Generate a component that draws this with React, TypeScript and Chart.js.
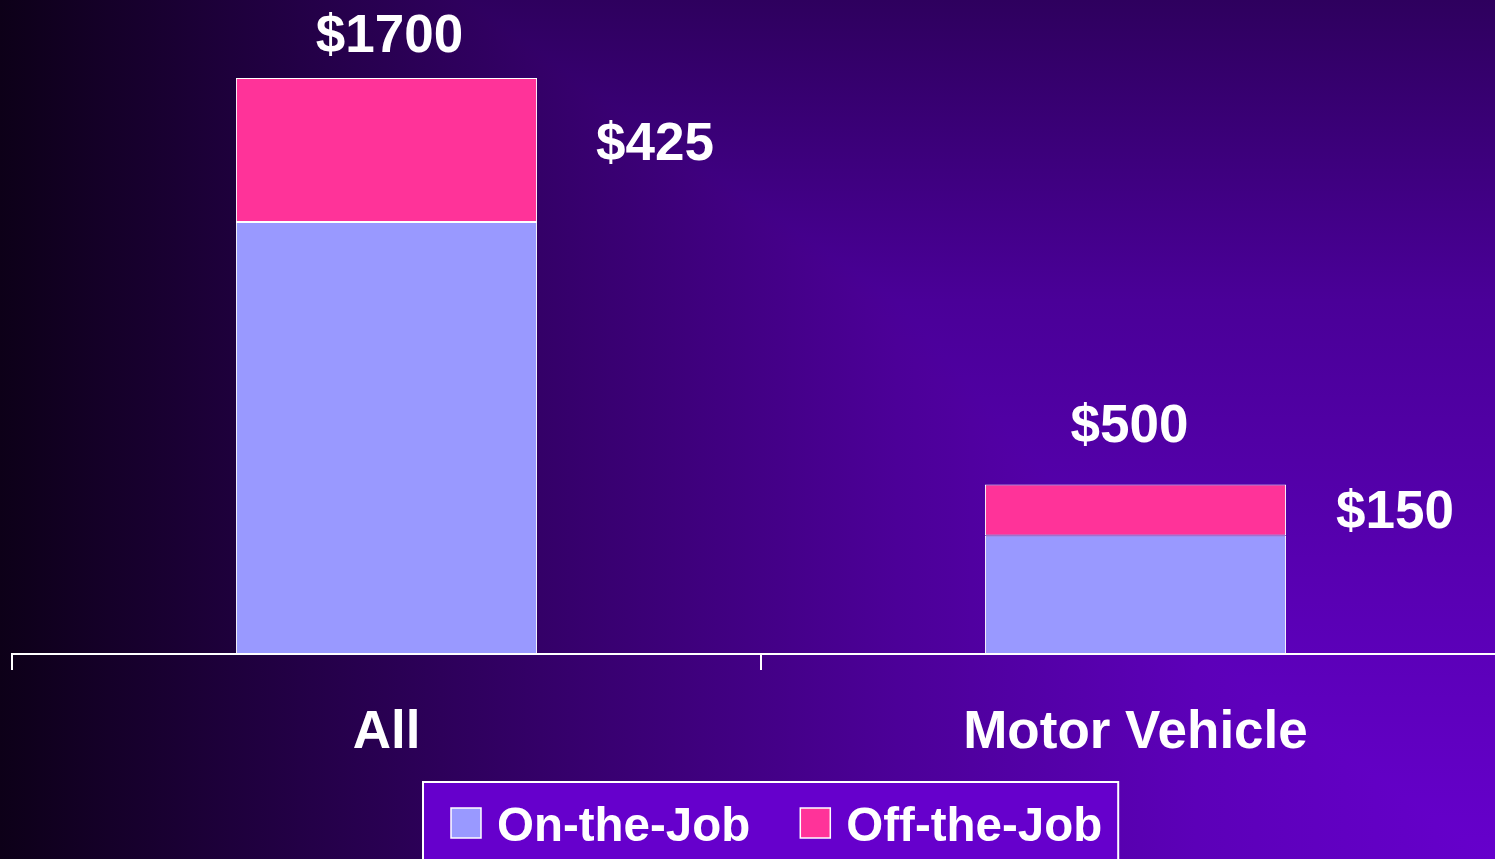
import React, { useEffect, useRef } from 'react';
import Chart from 'chart.js/auto';

// ---- data ----
const CATEGORIES = ['All', 'Motor Vehicle'];
const SERIES_LABELS = ['On-the-Job', 'Off-the-Job'];
const ON_THE_JOB = [1275, 350];
const OFF_THE_JOB = [425, 150];
const Y_MAX = 1800;

// ---- styles ----
const SERIES_COLORS = ['#9999ff', '#ff3399'];
const FONT_FAMILY = '"Liberation Sans", Arial, Helvetica, sans-serif';

// label placement (pixels) per category
const TOTAL_LABEL_GAP = [26, 43];
const TOTAL_LABEL_DX = [3, -6];
const SIDE_LABEL_GAP = [59, 50];
const SIDE_LABEL_DY = [10, 18];

const backgroundPlugin = {
  id: 'gradientBackground',
  beforeDraw(chart: any) {
    const { ctx, width, height } = chart;
    ctx.save();
    const v = ctx.createLinearGradient(0, 0, 0, 859);
    v.addColorStop(0, '#2e005e');
    v.addColorStop(0.35, '#4a0098');
    v.addColorStop(1, '#6600cc');
    ctx.fillStyle = v;
    ctx.fillRect(0, 0, width, height);
    ctx.globalCompositeOperation = 'darken';
    const h = ctx.createLinearGradient(0, 0, 1495, 0);
    h.addColorStop(0, '#0d0018');
    h.addColorStop(0.2, '#230046');
    h.addColorStop(0.4, '#380070');
    h.addColorStop(0.6, '#4c0098');
    h.addColorStop(0.8, '#5c00b8');
    h.addColorStop(1, '#6600cc');
    ctx.fillStyle = h;
    ctx.fillRect(0, 0, width, height);
    ctx.restore();
  },
};

const valueLabelPlugin = {
  id: 'valueLabels',
  afterDatasetsDraw(chart: any) {
    const ctx = chart.ctx;
    const metaOff = chart.getDatasetMeta(1);
    ctx.save();
    ctx.font = `bold 53px ${FONT_FAMILY}`;
    ctx.fillStyle = '#ffffff';
    ctx.textBaseline = 'alphabetic';
    CATEGORIES.forEach((_, i) => {
      const el = metaOff.data[i].getProps(['x', 'y', 'base', 'width'], true);
      const total = ON_THE_JOB[i] + OFF_THE_JOB[i];
      ctx.textAlign = 'center';
      ctx.fillText('$' + total, el.x + TOTAL_LABEL_DX[i], el.y - TOTAL_LABEL_GAP[i]);
      ctx.textAlign = 'left';
      const mid = (el.y + el.base) / 2;
      ctx.fillText('$' + OFF_THE_JOB[i], el.x + el.width / 2 + SIDE_LABEL_GAP[i], mid + SIDE_LABEL_DY[i]);
    });
    ctx.restore();
  },
};

const boxedLegendPlugin = {
  id: 'boxedLegend',
  afterDraw(chart: any) {
    const ctx = chart.ctx;
    const datasets = chart.data.datasets;
    ctx.save();
    ctx.font = `bold 47.5px ${FONT_FAMILY}`;
    const boxLeft = 423;
    const boxTop = 782;
    let x = boxLeft + 28;
    const items = datasets.map((ds: any) => {
      const w = ctx.measureText(ds.label).width;
      const item = { x, w, ds };
      x += 30 + 16 + w + 50;
      return item;
    });
    const last = items[items.length - 1];
    const boxRight = last.x + 46 + last.w + 16;
    const boxH = chart.height - boxTop + 10;
    ctx.fillStyle = '#6600cc';
    ctx.fillRect(boxLeft, boxTop, boxRight - boxLeft, boxH);
    ctx.strokeStyle = '#ffffff';
    ctx.lineWidth = 2;
    ctx.strokeRect(boxLeft, boxTop, boxRight - boxLeft, boxH);
    items.forEach((it: any) => {
      ctx.fillStyle = it.ds.backgroundColor;
      ctx.fillRect(it.x, 808, 30, 30);
      ctx.strokeStyle = '#ffffff';
      ctx.lineWidth = 1.5;
      ctx.strokeRect(it.x, 808, 30, 30);
      ctx.fillStyle = '#ffffff';
      ctx.textAlign = 'left';
      ctx.textBaseline = 'alphabetic';
      ctx.fillText(it.ds.label, it.x + 46, 841);
    });
    ctx.restore();
  },
};

export default function App() {
  const ref = useRef<HTMLCanvasElement>(null);

  useEffect(() => {
    if (!ref.current) return;
    const chart = new Chart(ref.current, {
      type: 'bar',
      data: {
        labels: CATEGORIES,
        datasets: [
          {
            label: SERIES_LABELS[0],
            data: ON_THE_JOB,
            backgroundColor: SERIES_COLORS[0],
            borderColor: '#ffffff',
            borderWidth: 1,
            borderSkipped: false,
          },
          {
            label: SERIES_LABELS[1],
            data: OFF_THE_JOB,
            backgroundColor: SERIES_COLORS[1],
            borderColor: '#ffffff',
            borderWidth: 1,
            borderSkipped: false,
          },
        ],
      },
      options: {
        responsive: false,
        animation: false,
        devicePixelRatio: 1,
        events: [],
        layout: { padding: { left: 12, right: 0, top: 44, bottom: 0 } },
        datasets: {
          bar: { categoryPercentage: 1, barPercentage: 0.402 },
        },
        plugins: {
          legend: { display: false },
          tooltip: { enabled: false },
        },
        scales: {
          x: {
            stacked: true,
            offset: true,
            grid: {
              display: true,
              offset: true,
              drawOnChartArea: false,
              drawTicks: true,
              tickLength: 16,
              color: '#ffffff',
              lineWidth: 2,
            },
            border: { display: true, color: '#ffffff', width: 2 },
            ticks: {
              color: '#ffffff',
              font: { family: FONT_FAMILY, size: 53, weight: 'bold' },
              padding: 32,
              maxRotation: 0,
              autoSkip: false,
            },
            afterFit: (scale: any) => {
              scale.height = 205;
            },
          },
          y: {
            stacked: true,
            display: false,
            min: 0,
            max: Y_MAX,
          },
        },
      },
      plugins: [backgroundPlugin, valueLabelPlugin, boxedLegendPlugin],
    } as any);
    return () => chart.destroy();
  }, []);

  return (
    <div style={{ position: 'fixed', left: 0, top: 0, width: 1495, height: 859, overflow: 'hidden' }}>
      <canvas ref={ref} width={1510} height={859} style={{ display: 'block', width: 1510, height: 859 }} />
    </div>
  );
}
